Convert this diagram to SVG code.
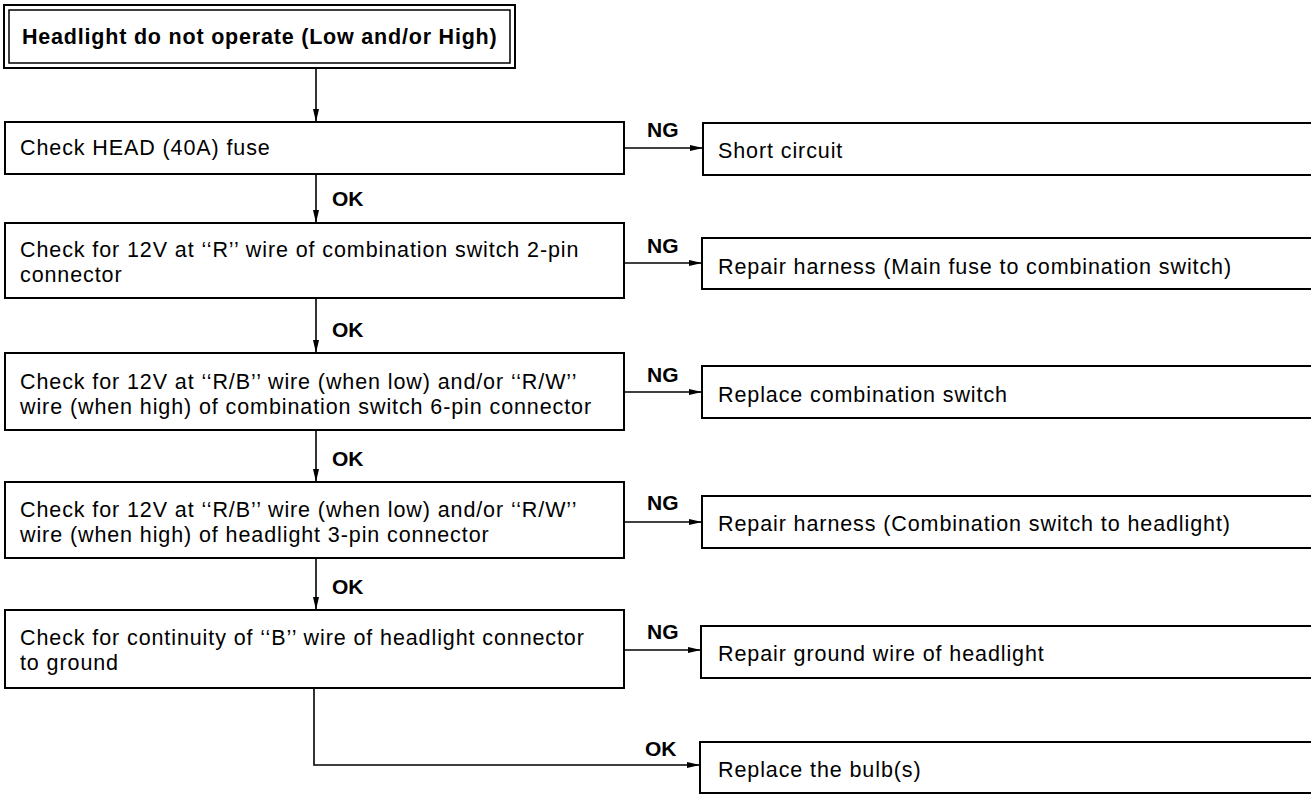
<svg xmlns="http://www.w3.org/2000/svg" width="1311" height="794" viewBox="0 0 1311 794">
<style>
.box{fill:#fff;stroke:#000;stroke-width:2}
.t{font-family:"Liberation Sans",Arial,sans-serif;font-size:21.5px;letter-spacing:0.9px;fill:#000}
.b{font-family:"Liberation Sans",Arial,sans-serif;font-size:21.5px;font-weight:bold;letter-spacing:0.8px;fill:#000}
.lbl{font-family:"Liberation Sans",Arial,sans-serif;font-size:21px;font-weight:bold;fill:#000}
.c{fill:none;stroke:#000;stroke-width:1.6}
</style>
<defs>
<marker id="ah" markerWidth="14" markerHeight="8" refX="13" refY="4" orient="auto" markerUnits="userSpaceOnUse">
<path d="M0,1 L13,4 L0,7 Z" fill="#000"/>
</marker>
</defs>
<rect width="1311" height="794" fill="#fff"/>
<g id="connectors">
<line class="c" x1="316" y1="68" x2="316" y2="122" marker-end="url(#ah)"/>
<line class="c" x1="624" y1="148" x2="703" y2="148" marker-end="url(#ah)"/>
<line class="c" x1="316" y1="174" x2="316" y2="223" marker-end="url(#ah)"/>
<line class="c" x1="624" y1="263" x2="702" y2="263" marker-end="url(#ah)"/>
<line class="c" x1="316" y1="298" x2="316" y2="353" marker-end="url(#ah)"/>
<line class="c" x1="624" y1="392" x2="702" y2="392" marker-end="url(#ah)"/>
<line class="c" x1="316" y1="430" x2="316" y2="482" marker-end="url(#ah)"/>
<line class="c" x1="624" y1="522" x2="702" y2="522" marker-end="url(#ah)"/>
<line class="c" x1="316" y1="558" x2="316" y2="610" marker-end="url(#ah)"/>
<line class="c" x1="624" y1="650" x2="701" y2="650" marker-end="url(#ah)"/>
<polyline class="c" points="314,688 314,765 700,765" marker-end="url(#ah)"/>
<text class="lbl" x="647" y="137">NG</text>
<text class="lbl" x="332" y="206">OK</text>
<text class="lbl" x="647" y="253">NG</text>
<text class="lbl" x="332" y="337">OK</text>
<text class="lbl" x="647" y="382">NG</text>
<text class="lbl" x="332" y="466">OK</text>
<text class="lbl" x="647" y="510">NG</text>
<text class="lbl" x="332" y="594">OK</text>
<text class="lbl" x="647" y="639">NG</text>
<text class="lbl" x="645" y="756">OK</text>
</g>
<g id="title">
<rect x="4" y="5" width="511" height="63" fill="#fff" stroke="#000" stroke-width="2"/>
<rect x="9" y="10" width="501" height="53" fill="none" stroke="#000" stroke-width="1.5"/>
<text class="b" x="22" y="44">Headlight do not operate (Low and/or High)</text>
</g>
<g id="check-fuse">
<rect class="box" x="5" y="122" width="619" height="52"/>
<text class="t" x="20" y="155">Check HEAD (40A) fuse</text>
</g>
<g id="short-circuit">
<rect class="box" x="703" y="123" width="620" height="52"/>
<text class="t" x="718" y="158">Short circuit</text>
</g>
<g id="check-r-wire">
<rect class="box" x="5" y="223" width="619" height="75"/>
<text class="t" x="20" y="257">Check for 12V at ‘‘R’’ wire of combination switch 2-pin</text>
<text class="t" x="20" y="282">connector</text>
</g>
<g id="repair-main">
<rect class="box" x="702" y="238" width="620" height="51"/>
<text class="t" x="718" y="274">Repair harness (Main fuse to combination switch)</text>
</g>
<g id="check-switch">
<rect class="box" x="5" y="353" width="619" height="77"/>
<text class="t" x="20" y="389">Check for 12V at ‘‘R/B’’ wire (when low) and/or ‘‘R/W’’</text>
<text class="t" x="20" y="414">wire (when high) of combination switch 6-pin connector</text>
</g>
<g id="replace-switch">
<rect class="box" x="702" y="366" width="620" height="52"/>
<text class="t" x="718" y="402">Replace combination switch</text>
</g>
<g id="check-headlight">
<rect class="box" x="5" y="482" width="619" height="76"/>
<text class="t" x="20" y="517">Check for 12V at ‘‘R/B’’ wire (when low) and/or ‘‘R/W’’</text>
<text class="t" x="20" y="542">wire (when high) of headlight 3-pin connector</text>
</g>
<g id="repair-switch-headlight">
<rect class="box" x="702" y="496" width="620" height="52"/>
<text class="t" x="718" y="531">Repair harness (Combination switch to headlight)</text>
</g>
<g id="check-ground">
<rect class="box" x="5" y="610" width="619" height="78"/>
<text class="t" x="20" y="645">Check for continuity of ‘‘B’’ wire of headlight connector</text>
<text class="t" x="20" y="670">to ground</text>
</g>
<g id="repair-ground">
<rect class="box" x="701" y="626" width="620" height="52"/>
<text class="t" x="718" y="661">Repair ground wire of headlight</text>
</g>
<g id="replace-bulb">
<rect class="box" x="700" y="742" width="620" height="51"/>
<text class="t" x="718" y="777">Replace the bulb(s)</text>
</g>
</svg>
